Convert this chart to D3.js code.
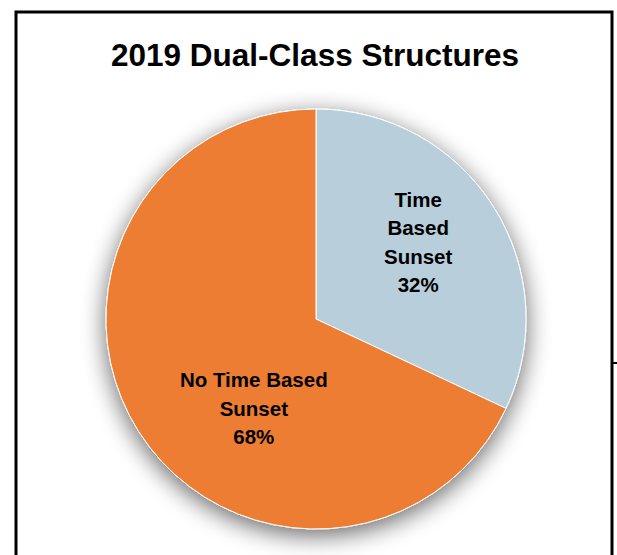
<!DOCTYPE html>
<html>
<head>
<meta charset="utf-8">
<script src="https://cdn.jsdelivr.net/npm/d3@7"></script>
<style>
  body { margin: 0; background: #fff; }
  svg { display: block; font-family: "Liberation Sans", Arial, sans-serif; }
</style>
</head>
<body>
<script>
// chart data
var title = "2019 Dual-Class Structures";
var categories = ["Time Based Sunset", "No Time Based Sunset"];
var values = [32, 68];
var labelLines = [["Time", "Based", "Sunset", "32%"], ["No Time Based", "Sunset", "68%"]];
var colors = ["#b8cfdb", "#ed7d31"];

var width = 617, height = 555;
var cx = 316, cy = 319, radius = 210;

// where the data labels sit (fraction of radius, then a nudge like Excel's best fit)
var labelR = [0.61, 0.52];
var labelNudge = [[-6, -8], [30, 31]];

var svg = d3.select("body").append("svg")
    .attr("width", width)
    .attr("height", height);

// soft shadow behind the pie
var defs = svg.append("defs");
var f = defs.append("filter").attr("id", "glow")
    .attr("x", "-30%").attr("y", "-30%").attr("width", "160%").attr("height", "160%");
f.append("feGaussianBlur").attr("in", "SourceAlpha").attr("stdDeviation", 12).attr("result", "b");
f.append("feOffset").attr("in", "b").attr("dy", 6).attr("result", "o");
f.append("feComponentTransfer").attr("in", "o").attr("result", "s")
  .append("feFuncA").attr("type", "linear").attr("slope", 0.6);
var m = f.append("feMerge");
m.append("feMergeNode").attr("in", "s");
m.append("feMergeNode").attr("in", "SourceGraphic");

// outer frame
svg.append("rect")
    .attr("x", 16).attr("y", 12)
    .attr("width", 596).attr("height", 600)
    .attr("fill", "none")
    .attr("stroke", "#000")
    .attr("stroke-width", 3);

svg.append("line")
    .attr("x1", 611).attr("x2", 617)
    .attr("y1", 363).attr("y2", 363)
    .attr("stroke", "#000").attr("stroke-width", 2);

svg.append("text")
    .attr("x", 315).attr("y", 66)
    .attr("text-anchor", "middle")
    .style("font-size", "31.5px")
    .style("font-weight", "bold")
    .text(title);

var pie = d3.pie().sort(null).value(function(d, i) { return values[i]; });
var arcs = pie(categories);

var arc = d3.arc().innerRadius(0).outerRadius(radius);

var g = svg.append("g").attr("transform", "translate(" + cx + "," + cy + ")");

g.append("g").attr("filter", "url(#glow)")
  .selectAll("path")
  .data(arcs)
  .enter()
  .append("path")
    .attr("d", arc)
    .attr("fill", function(d, i) { return colors[i]; })
    .attr("stroke", "#fff")
    .attr("stroke-width", 1);

var lineH = 28.5;

var lab = g.selectAll(".lbl")
    .data(arcs)
    .enter()
    .append("text")
    .attr("class", "lbl")
    .attr("text-anchor", "middle")
    .style("font-size", "20.5px")
    .style("font-weight", "bold")
    .attr("transform", function(d, i) {
        var r = radius * labelR[i];
        var c = d3.arc().innerRadius(r).outerRadius(r).centroid(d);
        return "translate(" + (c[0] + labelNudge[i][0]) + "," + (c[1] + labelNudge[i][1]) + ")";
    });

lab.each(function(d, i) {
    var lines = labelLines[i];
    var t = d3.select(this);
    var start = -((lines.length - 1) * lineH) / 2 + 7;
    lines.forEach(function(s, k) {
        t.append("tspan").attr("x", 0).attr("y", start + k * lineH).text(s);
    });
});
</script>
</body>
</html>
